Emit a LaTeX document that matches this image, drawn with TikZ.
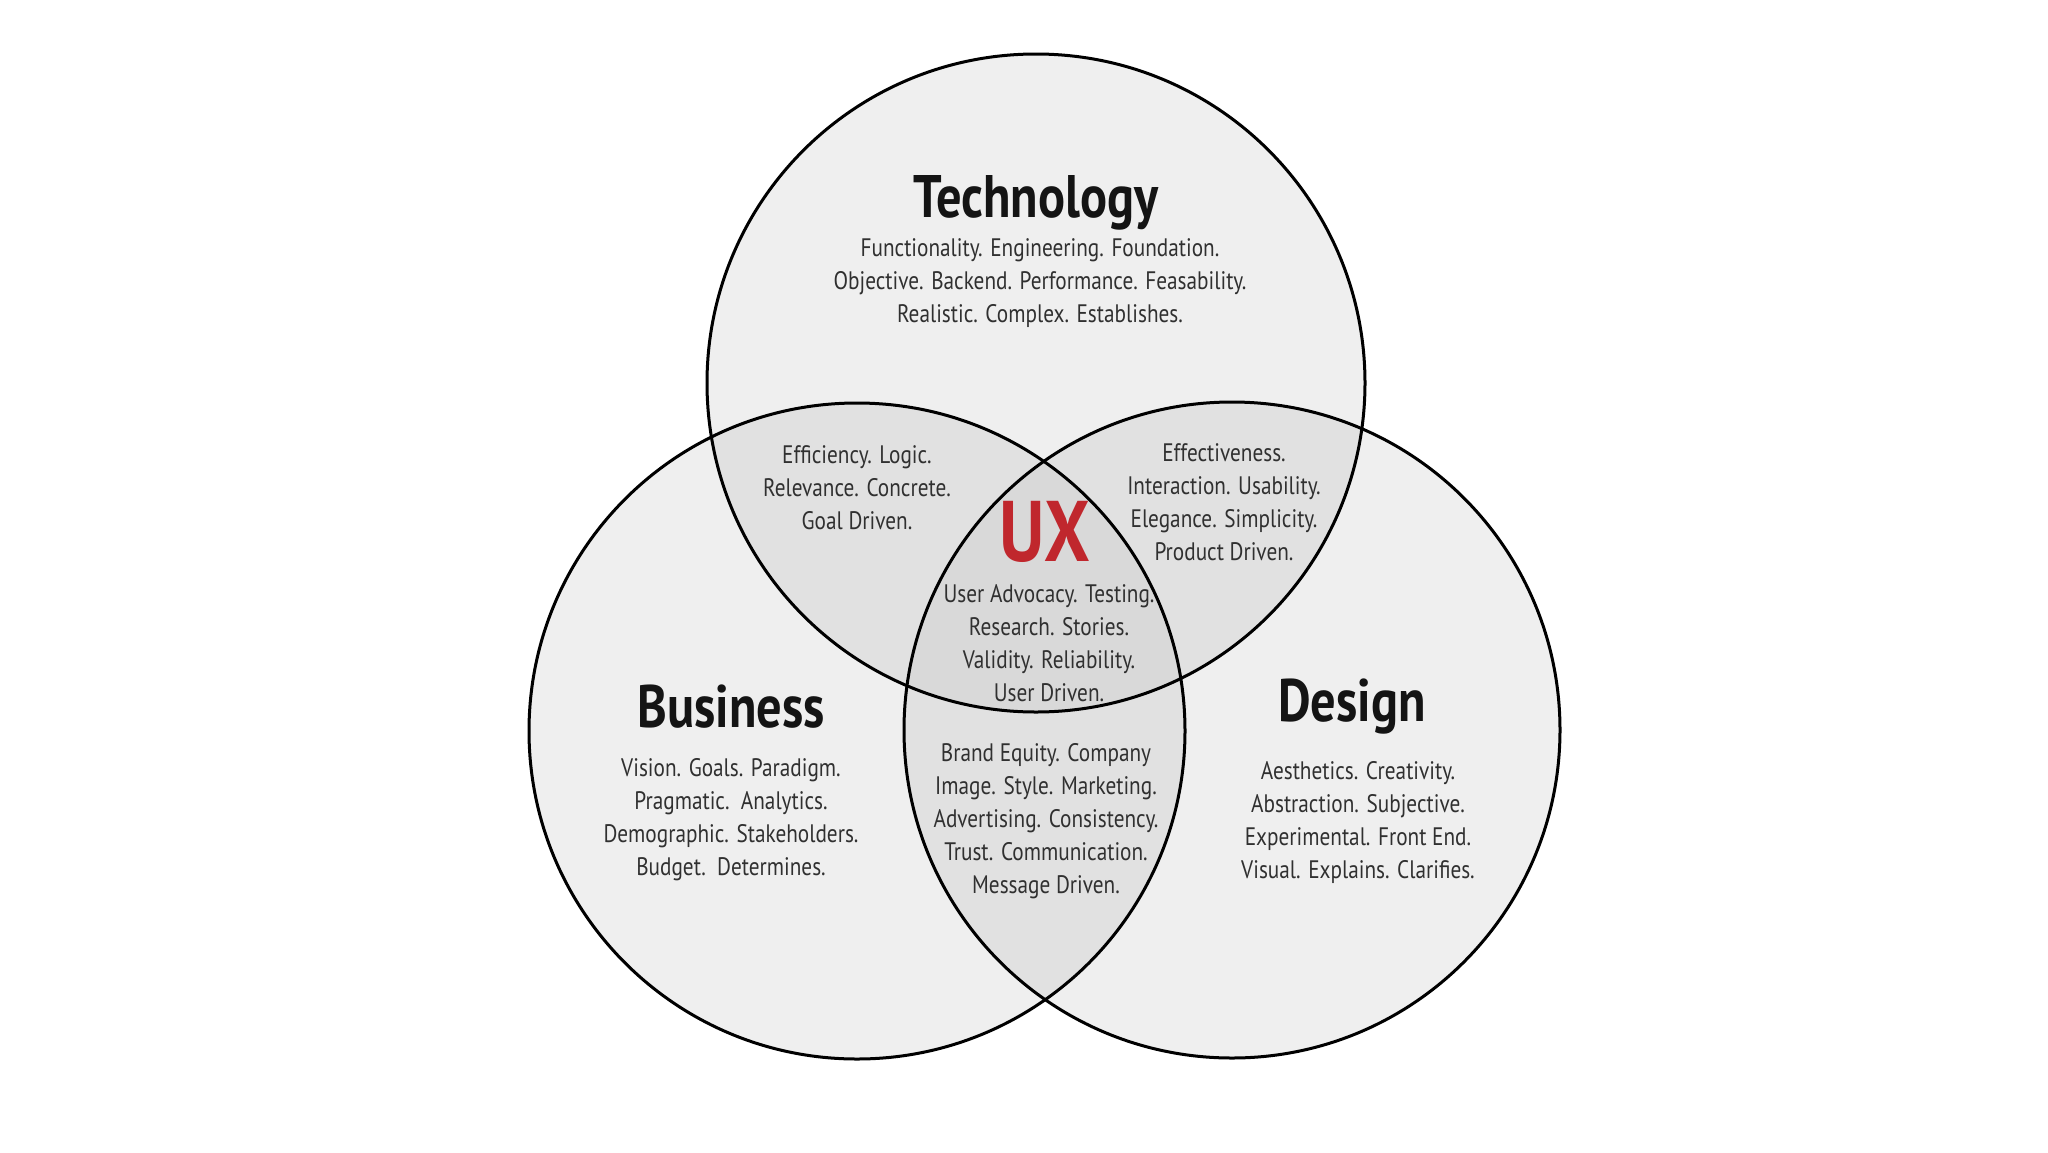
\documentclass[tikz,border=0pt]{standalone}
\usepackage{fontspec}
\setmainfont{PT Sans}[FakeStretch=0.84]
\usetikzlibrary{backgrounds}
\definecolor{oneC}{HTML}{EFEFEF}
\definecolor{twoC}{HTML}{E1E1E1}
\definecolor{threeC}{HTML}{D9D9D9}
\definecolor{uxred}{HTML}{C0272D}
\definecolor{bodyC}{HTML}{303030}
\tikzset{
  ring/.style={draw=black, line width=3pt},
  titletext/.style={font=\fontsize{60}{64}\selectfont\bfseries, text=black!92, inner sep=0pt},
  bodytext/.style={font=\fontsize{25.3}{33}\selectfont, text=bodyC, align=center, inner sep=0pt},
  uxtext/.style={font=\fontsize{86}{86}\selectfont\bfseries, text=uxred, inner sep=0pt, text depth=0pt}
}
\begin{document}
\begin{tikzpicture}[x=1pt,y=-1pt]
\useasboundingbox (0,0) rectangle (2048,1152);
\fill[white] (0,0) rectangle (2048,1152);
\coordinate (cT) at (1036,383);
\coordinate (cB) at (857,731);
\coordinate (cD) at (1232,730);
\def\rT{329}\def\rB{328}\def\rD{328}
% single fills
\fill[oneC] (cT) circle (\rT);
\fill[oneC] (cB) circle (\rB);
\fill[oneC] (cD) circle (\rD);
% pairwise
\begin{scope}\clip (cT) circle (\rT); \fill[twoC] (cB) circle (\rB); \fill[twoC] (cD) circle (\rD);\end{scope}
\begin{scope}\clip (cB) circle (\rB); \fill[twoC] (cD) circle (\rD);\end{scope}
% triple
\begin{scope}\clip (cT) circle (\rT); \clip (cB) circle (\rB); \fill[threeC] (cD) circle (\rD);\end{scope}
% outlines
\draw[ring] (cT) circle (\rT);
\draw[ring] (cB) circle (\rB);
\draw[ring] (cD) circle (\rD);
% titles
\node[titletext] (tech) at (1036,203) {Technology};
\node[titletext] (bus) at (731,707) {Business};
\node[titletext] (des) at (1352,707) {Design};
\node[uxtext] (ux) at (1045,531) {UX};
% bodies
\node[bodytext] (techb) at (1040,283) {Functionality. Engineering. Foundation.\\Objective. Backend. Performance. Feasability.\\Realistic. Complex. Establishes.};
\node[bodytext] (effi) at (857,488) {Efficiency. Logic.\\Relevance. Concrete.\\Goal Driven.};
\node[bodytext] (effe) at (1224,502) {Effectiveness.\\Interaction. Usability.\\Elegance. Simplicity.\\Product Driven.};
\node[bodytext] (uxb) at (1049,643) {User Advocacy. Testing.\\Research. Stories.\\Validity. Reliability.\\User Driven.};
\node[bodytext] (busb) at (731,820) {Vision. Goals. Paradigm.\\Pragmatic.\ \ Analytics.\\Demographic. Stakeholders.\\Budget.\ \ Determines.};
\node[bodytext] (desb) at (1358,823) {Aesthetics. Creativity.\\Abstraction. Subjective.\\Experimental. Front End.\\Visual. Explains. Clarifies.};
\node[bodytext] (brand) at (1046,821) {Brand Equity. Company\\Image. Style. Marketing.\\Advertising. Consistency.\\Trust. Communication.\\Message Driven.};
\end{tikzpicture}
\end{document}
